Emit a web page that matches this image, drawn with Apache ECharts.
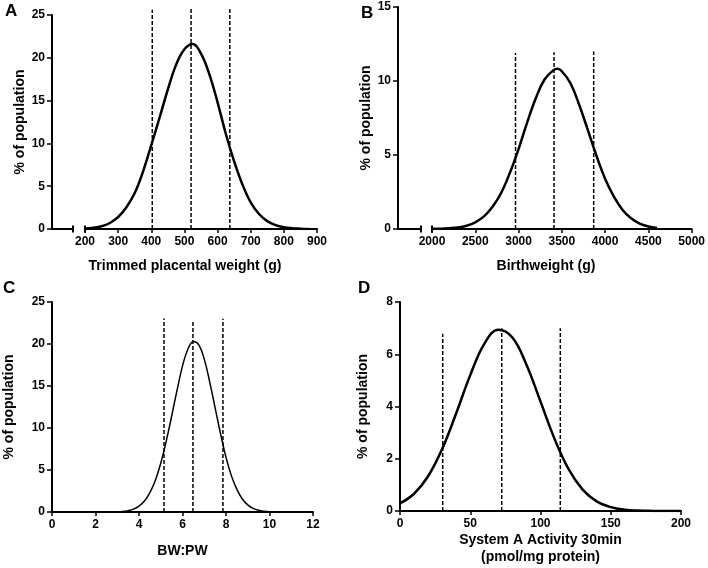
<!DOCTYPE html>
<html>
<head>
<meta charset="utf-8">
<title>Population distributions</title>
<script src="https://cdn.jsdelivr.net/npm/echarts@6/dist/echarts.min.js"></script>
<style>
  html, body { margin: 0; padding: 0; background: #fff; }
  #chart { width: 708px; height: 568px; }
</style>
</head>
<body>
<div id="chart"></div>
<script>
// A - trimmed placental weight (g)
const placentaX = [200, 225, 250, 275, 300, 325, 350, 375, 400, 425, 450, 475, 500, 525,
  550, 575, 600, 625, 650, 675, 700, 725, 750, 775, 800, 825, 850, 875];
const placentaPct = [0.05, 0.14, 0.32, 0.7, 1.4, 2.55, 4.2, 6.7, 9.8, 13.0, 16.3, 19.2, 21.0, 21.6,
  20.5, 18.1, 14.8, 11.1, 7.9, 5.2, 3.1, 1.75, 0.92, 0.45, 0.2, 0.09, 0.04, 0.01];
const placentaCuts = [403, 520, 637];
const placentaCutTops = [25.6, 25.9, 25.9];
const placentaTicks = [200, 900, 100];

// B - birthweight (g)
const birthX = [2000, 2100, 2200, 2300, 2400, 2500, 2600, 2700, 2800, 2900, 3000, 3100, 3200, 3300,
  3400, 3450, 3500, 3600, 3700, 3800, 3900, 4000, 4100, 4200, 4300, 4400, 4500, 4600];
const birthPct = [0.01, 0.02, 0.05, 0.1, 0.22, 0.45, 0.85, 1.5, 2.45, 3.8, 5.4, 7.2, 8.85, 10.1,
  10.72, 10.82, 10.66, 9.85, 8.4, 6.7, 4.95, 3.4, 2.2, 1.3, 0.72, 0.36, 0.17, 0.07];
const birthCuts = [2965, 3410, 3868];
const birthCutTops = [11.9, 11.95, 12.0];
const birthTicks = [2000, 5000, 500];

// C - BW:PW ratio
const ratioX = [3.0, 3.25, 3.5, 3.75, 4.0, 4.25, 4.5, 4.75, 5.0, 5.25, 5.5, 5.75, 6.0, 6.25, 6.5,
  6.75, 7.0, 7.25, 7.5, 7.75, 8.0, 8.25, 8.5, 8.75, 9.0, 9.25, 9.5, 9.75, 10.0];
const ratioPct = [0.03, 0.07, 0.16, 0.34, 0.7, 1.3, 2.3, 3.75, 5.8, 8.4, 11.4, 14.5, 17.4, 19.4, 20.3,
  19.9, 18.2, 15.5, 12.4, 9.3, 6.5, 4.3, 2.7, 1.55, 0.85, 0.43, 0.2, 0.09, 0.04];
const ratioCuts = [5.15, 6.48, 7.86];
const ratioCutTops = [23.05, 22.8, 23.0];
const ratioTicks = [0, 12, 2];

// D - System A activity 30min (pmol/mg protein)
const sysAX = [0, 10, 20, 30, 40, 50, 60, 70, 80, 90, 100, 110, 120, 130, 140, 150, 160, 170, 180, 190, 200];
const sysAPct = [0.29, 0.66, 1.33, 2.37, 3.74, 5.2, 6.4, 6.94, 6.64, 5.6, 4.19, 2.76, 1.6, 0.82,
  0.37, 0.15, 0.05, 0.015, 0.004, 0.001, 0];
const sysACuts = [30.4, 72.4, 114.1];
const sysACutTops = [6.78, 7.0, 7.0];
const sysATicks = [0, 200, 50];

const yMaxes = [25, 15, 25, 8];
const yIntervals = [5, 5, 5, 2];

const FONT = 'Liberation Sans, Arial, sans-serif';
const labelFont = { color: '#000', fontFamily: FONT, fontWeight: 'bold', fontSize: 12 };
const nameFont = { color: '#000', fontFamily: FONT, fontWeight: 'bold', fontSize: 14 };
const letterFont = { color: '#000', fontFamily: FONT, fontWeight: 'bold', fontSize: 17 };
const black = { color: '#000', width: 2 };

const pairs = (xs, ys) => xs.map((x, i) => [x, ys[i]]);

const curve = (axis, xs, ys, width) => ({
  type: 'line',
  xAxisIndex: axis,
  yAxisIndex: axis,
  data: pairs(xs, ys),
  smooth: 0.4,
  showSymbol: false,
  silent: true,
  lineStyle: { color: '#000', width: width }
});

const cutLines = (axis, cuts, tops) => cuts.map((c, i) => ({
  type: 'line',
  xAxisIndex: axis,
  yAxisIndex: axis,
  clip: false,
  data: [[c, 0], [c, tops[i]]],
  showSymbol: false,
  silent: true,
  lineStyle: { color: '#000', width: 1.5, type: [4, 2] }
}));

const shownY = (grid, p, gap) => ({
  type: 'value', gridIndex: grid, min: 0, max: yMaxes[p], interval: yIntervals[p],
  name: '% of population', nameLocation: 'middle', nameGap: gap, nameTextStyle: nameFont,
  axisLine: { show: true, onZero: false, lineStyle: black },
  axisTick: { show: true, length: 5, lineStyle: { color: '#000', width: 1.5 } },
  axisLabel: Object.assign({ margin: 7 }, labelFont),
  splitLine: { show: false }
});

const hiddenY = (grid, p) => ({
  type: 'value', gridIndex: grid, min: 0, max: yMaxes[p], show: false
});

const mainX = (grid, ticks, broken, extra) => Object.assign({
  type: 'value', gridIndex: grid, min: ticks[0], max: ticks[1], interval: ticks[2],
  axisLine: {
    show: true, onZero: false, lineStyle: black,
    symbol: broken ? ['rect', 'none'] : 'none', symbolSize: [7, 2]
  },
  axisTick: { show: true, length: 4, lineStyle: { color: '#000', width: 1.5 } },
  axisLabel: Object.assign({ margin: 7, formatter: (v) => String(v) }, labelFont),
  splitLine: { show: false }
}, extra || {});

const stubX = (grid) => ({
  type: 'value', gridIndex: grid, min: 0, max: 1,
  axisLine: { show: true, onZero: false, lineStyle: black, symbol: ['none', 'rect'], symbolSize: [7, 2] },
  axisTick: { show: false },
  axisLabel: { show: false },
  splitLine: { show: false }
});

const getOption = () => {
  return {
    animation: false,
    backgroundColor: '#fff',
    title: [
      { text: 'A', left: 5, top: 3, padding: 0, textStyle: letterFont },
      { text: 'B', left: 361, top: 5, padding: 0, textStyle: letterFont },
      { text: 'C', left: 3, top: 280, padding: 0, textStyle: letterFont },
      { text: 'D', left: 358, top: 280, padding: 0, textStyle: letterFont },
      { text: 'Trimmed placental weight (g)', left: 185, top: 259, padding: 0, textAlign: 'center', textStyle: nameFont },
      { text: 'Birthweight (g)', left: 546, top: 259, padding: 0, textAlign: 'center', textStyle: nameFont }
    ],
    grid: [
      // 0,1: panel A stub + main
      { left: 52, top: 15, width: 21, height: 214 },
      { left: 85, top: 15, width: 232, height: 214 },
      // 2,3: panel B stub + main
      { left: 398, top: 7, width: 23, height: 222 },
      { left: 432, top: 7, width: 262, height: 222 },
      // 4: panel C
      { left: 52, top: 302, width: 261, height: 210 },
      // 5: panel D
      { left: 400, top: 302, width: 281, height: 209 }
    ],
    xAxis: [
      stubX(0),
      mainX(1, placentaTicks, true),
      stubX(2),
      mainX(3, birthTicks, true),
      mainX(4, ratioTicks, false, {
        name: 'BW:PW', nameLocation: 'middle', nameGap: 32, nameTextStyle: nameFont
      }),
      mainX(5, sysATicks, false, {
        name: 'System A Activity 30min\n(pmol/mg protein)', nameLocation: 'middle', nameGap: 21,
        nameTextStyle: Object.assign({ lineHeight: 17 }, nameFont)
      })
    ],
    yAxis: [
      shownY(0, 0, 25),
      hiddenY(1, 0),
      shownY(2, 1, 25),
      hiddenY(3, 1),
      shownY(4, 2, 36),
      shownY(5, 3, 30)
    ],
    series: [
      curve(1, placentaX, placentaPct, 2.5),
      ...cutLines(1, placentaCuts, placentaCutTops),
      curve(3, birthX, birthPct, 2.5),
      ...cutLines(3, birthCuts, birthCutTops),
      curve(4, ratioX, ratioPct, 1.5),
      ...cutLines(4, ratioCuts, ratioCutTops),
      curve(5, sysAX, sysAPct, 2.5),
      ...cutLines(5, sysACuts, sysACutTops)
    ]
  };
};

const initChart = () => {
  const chart = echarts.init(document.getElementById('chart'));
  chart.setOption(getOption());
};

window.addEventListener('load', () => {
  initChart();
});
</script>
</body>
</html>
